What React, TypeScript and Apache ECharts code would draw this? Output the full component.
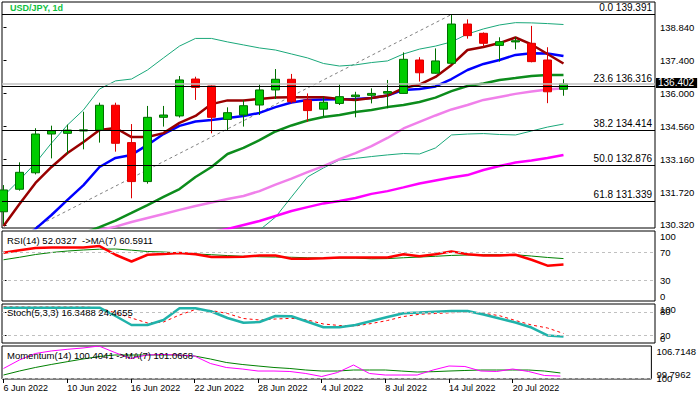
import React, { useEffect, useRef } from 'react';
import * as echarts from 'echarts';

const dates = ['6 Jun 2022','7 Jun 2022','8 Jun 2022','9 Jun 2022','10 Jun 2022','13 Jun 2022','14 Jun 2022','15 Jun 2022','16 Jun 2022','17 Jun 2022','20 Jun 2022','21 Jun 2022','22 Jun 2022','23 Jun 2022','24 Jun 2022','27 Jun 2022','28 Jun 2022','29 Jun 2022','30 Jun 2022','1 Jul 2022','4 Jul 2022','5 Jul 2022','6 Jul 2022','7 Jul 2022','8 Jul 2022','11 Jul 2022','12 Jul 2022','13 Jul 2022','14 Jul 2022','15 Jul 2022','18 Jul 2022','19 Jul 2022','20 Jul 2022','21 Jul 2022','22 Jul 2022','25 Jul 2022'];

const open = [130.89,131.86,132.57,134.24,134.27,134.37,134.41,135.48,133.87,132.19,134.96,135.02,136.61,136.31,134.87,135.06,135.49,136.14,136.60,135.71,135.31,135.56,135.85,135.91,136.00,135.99,137.43,136.86,137.29,138.98,138.58,138.06,138.21,138.15,137.43,136.17];
const close = [131.83,132.59,134.24,134.38,134.41,134.42,135.48,133.84,132.19,134.96,135.06,136.57,136.25,134.96,135.16,135.46,136.14,136.60,135.63,135.25,135.61,135.85,135.92,135.99,136.07,137.46,136.88,137.39,138.98,138.48,138.15,138.22,138.26,137.36,136.06,136.402];
const low = [130.35,131.80,132.50,133.19,133.38,133.58,133.87,133.48,131.47,132.10,134.56,134.95,135.71,134.27,134.41,134.56,135.06,135.75,135.56,134.77,134.99,135.49,134.96,135.56,135.35,135.98,136.50,136.84,137.25,138.35,138.00,137.36,137.89,137.33,135.57,135.89];
const high = [132.04,133.02,134.49,134.60,134.65,135.20,135.59,135.59,134.67,135.45,135.45,136.74,136.71,136.33,135.39,135.71,136.38,137.04,136.83,135.99,135.85,136.38,136.06,136.21,136.57,137.76,137.55,137.93,139.39,139.18,138.62,138.41,138.41,138.90,137.98,136.60];

const ma5 = [130.28,131.22,132.13,132.82,133.42,133.90,134.41,134.50,134.11,134.11,134.28,134.72,135.02,135.53,135.69,135.69,135.75,135.81,135.82,135.82,135.82,135.75,135.71,135.79,135.90,136.22,136.37,136.70,137.22,137.86,137.99,138.16,138.40,138.10,137.69,137.28];
const ma10 = [129.2,129.67,130.15,130.75,131.40,132.04,132.82,133.21,133.34,133.77,134.24,134.59,134.78,134.84,134.93,135.02,135.15,135.40,135.60,135.71,135.73,135.74,135.75,135.79,135.90,136.14,136.18,136.29,136.61,137.00,137.26,137.43,137.65,137.72,137.71,137.60];
const maGreen = [null,null,null,null,129.70,129.97,130.23,130.51,130.84,131.18,131.53,131.87,132.39,132.82,133.38,133.64,133.98,134.35,134.61,134.82,134.97,135.06,135.19,135.28,135.40,135.49,135.62,135.81,136.09,136.31,136.42,136.57,136.65,136.74,136.78,136.78];
const maViolet = [null,null,null,null,null,129.95,130.10,130.25,130.45,130.62,130.79,130.97,131.14,131.29,131.44,131.57,131.78,132.06,132.32,132.60,132.86,133.16,133.42,133.72,134.07,134.48,134.76,135.04,135.30,135.49,135.71,135.84,135.97,136.07,136.16,136.21];
const maMagenta = [null,null,null,null,null,null,null,null,null,null,null,null,129.88,130.02,130.15,130.32,130.49,130.71,130.92,131.09,131.25,131.35,131.48,131.66,131.78,131.94,132.11,132.24,132.37,132.47,132.69,132.86,133.01,133.10,133.21,133.34];
const bandUpper = [131.57,132.26,132.99,133.85,134.63,135.28,136.18,136.53,136.61,137.00,137.52,138.03,138.36,138.36,138.21,138.08,137.95,137.86,137.69,137.52,137.28,137.17,137.22,137.32,137.39,137.69,137.90,138.03,138.21,138.55,138.77,138.94,139.04,139.03,139.00,138.96];
const bandLower = [null,null,null,null,null,null,null,null,null,null,null,null,null,127.95,128.72,129.46,130.10,130.66,131.53,132.39,132.78,133.12,133.19,133.27,133.34,133.40,133.38,133.64,134.20,134.24,134.26,134.22,134.20,134.37,134.54,134.67];

const rsi = [69.0,72.6,75.8,76.6,76.6,76.6,78.4,66.1,56.4,66.1,67.1,68.5,66.8,62.8,62.8,63.2,65.1,65.1,60.3,60.3,61.0,62.2,62.2,62.2,62.2,66.8,63.9,66.8,70.9,66.8,65.1,65.1,66.1,58.9,50.5,52.0327];
const rsiMa = [58.9,62.5,66.4,69.3,71.4,72.9,74.0,74.3,72.6,70.7,70.0,68.7,67.2,66.1,64.9,63.9,63.2,62.8,62.5,61.8,61.3,61.3,61.3,60.3,60.6,61.8,62.8,63.9,65.1,65.7,66.1,66.1,66.1,64.2,62.2,60.5911];
const stochK = [90.5,90.5,90.5,90.5,90.5,90.5,90.5,69.2,46.2,46.2,59.0,89.0,89.0,80.8,64.1,52.1,53.8,69.2,68.5,54.6,40.3,40.3,46.2,56.4,66.7,76.2,78.2,80.3,82.1,82.1,73.1,62.8,52.6,39.7,19.5,16.3488];
const stochD = [93.1,92.3,92.3,92.3,92.3,92.3,90.5,76.9,64.1,51.3,53.8,71.8,85.9,83.3,75.6,62.8,59.0,61.5,63.3,59.0,48.7,44.9,43.6,50.0,57.7,67.9,73.6,75.6,77.7,78.7,76.2,70.0,57.7,46.2,38.5,24.4655];
const mom = [102.00,103.78,105.14,105.67,106.02,106.30,106.71,105.35,104.09,104.83,104.93,104.83,104.62,103.05,102.21,101.89,101.47,101.47,101.37,100.95,100.32,101.16,102.73,100.95,100.63,100.63,100.63,101.68,102.52,102.42,101.47,101.37,101.89,101.37,100.53,100.4041];
const momMa = [100.63,101.47,102.21,102.84,103.42,103.99,104.51,104.83,104.83,104.83,104.83,104.83,104.62,103.99,103.26,102.84,102.52,102.21,102.00,101.68,101.47,101.47,101.68,101.68,101.68,101.47,101.26,101.33,101.47,101.58,101.68,101.68,101.68,101.68,101.47,101.0668];

const priceTicks = [130.32, 131.72, 133.16, 134.56, 136.0, 137.4, 138.84];
const fibPct = [0, 23.6, 38.2, 50, 61.8];
const fibPrice = [139.391, 136.316, 134.414, 132.876, 131.339];
const fibFromIdx = -9;
const fibToIdx = 28;
const fibLow = 126.36;
const lastPrice = 136.402;
const rsiRange = [0, 100];
const rsiLevels = [30, 70];
const stochRange = [0, 100];
const stochLevels = [20, 80];
const momRange = [99.7962, 106.7148];
const momLevels = [100];
const dateTickIdx = [0, 4, 8, 12, 16, 20, 24, 28, 32];

const FONT = '"Liberation Sans", Arial, sans-serif';
const X_MIN = -0.094;
const X_MAX = 40.72;

function pairs(arr: (number | null)[]) {
  return arr.map((v, i) => [i, v]);
}

function buildOption() {
  const gridDefs = [
    { top: 2, height: 226 },
    { top: 231, height: 70 },
    { top: 304, height: 39 },
    { top: 346, height: 33 },
  ];
  const grid = gridDefs.map((g) => ({
    left: 2, width: 653, top: g.top, height: g.height,
    show: true, borderColor: '#000', borderWidth: 1, backgroundColor: '#fff',
  }));
  const xAxis = gridDefs.map((_, i) => ({
    type: 'value', gridIndex: i, min: X_MIN, max: X_MAX,
    show: i === 3,
    axisLine: { show: false },
    splitLine: { show: false },
    axisTick: { show: i === 3, customValues: dateTickIdx, length: 4, lineStyle: { color: '#000' } },
    axisLabel: {
      show: i === 3, customValues: dateTickIdx, align: 'left', margin: 4,
      fontSize: 9, fontFamily: FONT, color: '#000',
      formatter: (v: number) => dates[Math.round(v)] || '',
    },
  }));
  const labelBase = {
    fontSize: 9.5, fontFamily: FONT, color: '#000', margin: 5, lineHeight: 10,
    showMinLabel: true, showMaxLabel: true, hideOverlap: false,
  };
  const axisBase = (gridIndex: number, range: number[]) => ({
    type: 'value', gridIndex, position: 'right', min: range[0], max: range[1],
    axisLine: { show: false }, splitLine: { show: false },
  });
  const levelAxis = (gridIndex: number, range: number[], values: number[], ticks: boolean, fmt: (v: number) => string) => ({
    ...axisBase(gridIndex, range),
    axisTick: { show: ticks, customValues: values, length: 3, lineStyle: { color: '#000' } },
    axisLabel: { ...labelBase, customValues: values, formatter: fmt },
  });
  const edgeAxis = (gridIndex: number, range: number[], value: number, align: string, fmt: (v: number) => string) => ({
    ...axisBase(gridIndex, range),
    axisTick: { show: false },
    axisLabel: { ...labelBase, customValues: [value], verticalAlign: align, formatter: fmt },
  });
  const intFmt = (v: number) => String(Math.round(v));
  const momFmt = (v: number) => v.toFixed(4);
  const yAxis = [
    levelAxis(0, [130.19, 139.93], priceTicks, true, (v) => v.toFixed(3)),
    levelAxis(1, rsiRange, rsiLevels, true, intFmt),
    levelAxis(2, stochRange, stochLevels, true, intFmt),
    levelAxis(3, momRange, momLevels, false, intFmt),
    edgeAxis(1, rsiRange, rsiRange[1], 'top', intFmt),
    edgeAxis(1, rsiRange, rsiRange[0], 'bottom', intFmt),
    edgeAxis(2, stochRange, stochRange[1], 'top', intFmt),
    edgeAxis(2, stochRange, stochRange[0], 'bottom', intFmt),
    edgeAxis(3, momRange, momRange[1], 'top', momFmt),
    edgeAxis(3, momRange, momRange[0], 'bottom', momFmt),
  ];

  const line = (name: string, data: (number | null)[], color: string, width: number, axis: number, extra: any = {}) => ({
    name, type: 'line', xAxisIndex: axis, yAxisIndex: axis, data: pairs(data),
    showSymbol: false, symbol: 'none', connectNulls: false, clip: true, z: 2,
    lineStyle: { color, width, ...(extra.lineStyle || {}) },
  });

  const levelLines = (levels: number[]) => ({
    silent: true, symbol: ['none', 'none'],
    label: { show: false },
    lineStyle: { color: '#c0c0c0', type: [3, 3], width: 1 },
    data: levels.map((l) => ({ yAxis: l })),
  });

  const series: any[] = [
    {
      name: 'Fibo', type: 'line', xAxisIndex: 0, yAxisIndex: 0, z: 1,
      data: [[fibFromIdx, fibLow], [fibToIdx, fibPrice[0]]],
      showSymbol: false, symbol: 'none', clip: true,
      lineStyle: { color: '#808080', width: 1, type: [3, 3] },
      markLine: {
        silent: true, symbol: ['none', 'none'],
        lineStyle: { color: '#000', width: 1, type: 'solid' },
        label: { show: true, position: 'insideEndTop', distance: [3, 2], color: '#000', fontSize: 10, fontFamily: FONT },
        data: fibPrice.map((p, i) => ({
          yAxis: p,
          label: { formatter: fibPct[i].toFixed(1) + ' ' + p.toFixed(3) },
        })),
      },
    },
    {
      name: 'Last', type: 'line', xAxisIndex: 0, yAxisIndex: 0, z: 1, data: [],
      markLine: {
        silent: true, symbol: ['none', 'none'],
        lineStyle: { color: '#c0c0c0', width: 1.5, type: 'solid' },
        label: {
          show: true, position: 'end', distance: 1, formatter: lastPrice.toFixed(3), offset: [0, -1],
          backgroundColor: '#000', color: '#fff', padding: [0, 3, 0, 2], lineHeight: 10,
          fontSize: 10, fontFamily: FONT,
        },
        data: [{ yAxis: lastPrice }],
      },
    },
    line('Band upper', bandUpper, '#1aa87a', 1, 0),
    line('Band lower', bandLower, '#1aa87a', 1, 0),
    line('MA magenta', maMagenta, '#ff00ff', 2.5, 0),
    line('MA violet', maViolet, '#f080ea', 2.5, 0),
    line('MA green', maGreen, '#0c8c1c', 2.5, 0),
    line('MA blue', ma10, '#0000ff', 2.5, 0),
    line('MA red', ma5, '#990000', 2.5, 0),
    {
      name: 'USD/JPY', type: 'candlestick', xAxisIndex: 0, yAxisIndex: 0, z: 3,
      barWidth: 9, clip: true,
      data: dates.map((_, i) => [i, open[i], close[i], low[i], high[i]]),
      itemStyle: { color: '#00cc00', color0: '#ff0000', borderColor: '#006e00', borderColor0: '#dd0000', borderWidth: 1 },
    },
    { ...line('RSI MA', rsiMa, '#008000', 1, 1), markLine: levelLines(rsiLevels) },
    line('RSI', rsi, '#ff0000', 2.5, 1),
    { ...line('Stoch D', stochD, '#ff0000', 1, 2, { lineStyle: { type: [3, 3] } }), markLine: levelLines(stochLevels) },
    line('Stoch K', stochK, '#20b2aa', 2.5, 2),
    { ...line('Momentum MA', momMa, '#008000', 1, 3), markLine: levelLines(momLevels) },
    line('Momentum', mom, '#ff00ff', 1, 3),
  ];

  const text = (x: number, y: number, t: string, fill: string, weight: string = 'normal', size = 9.5) => ({
    type: 'text', x, y, z: 100,
    style: { text: t, fill, font: `${weight} ${size}px ${FONT}`, textVerticalAlign: 'middle', verticalAlign: 'middle' },
  });

  const graphic = [
    text(10, 8, 'USD/JPY, 1d', '#10c040', 'bold', 9),
    text(7, 240, `RSI(14) ${rsi[rsi.length - 1].toFixed(4)}  ->MA(7) ${rsiMa[rsiMa.length - 1].toFixed(4)}`, '#000'),
    text(7, 312, `Stoch(5,3,3) ${stochK[stochK.length - 1].toFixed(4)} ${stochD[stochD.length - 1].toFixed(4)}`, '#000'),
    text(7, 355, `Momentum(14) ${mom[mom.length - 1].toFixed(4)} ->MA(7) ${momMa[momMa.length - 1].toFixed(4)}`, '#000'),
  ];

  return {
    animation: false,
    backgroundColor: '#fff',
    grid, xAxis, yAxis, series, graphic,
  };
}

export default function App() {
  const ref = useRef<HTMLDivElement>(null);
  useEffect(() => {
    const chart = echarts.init(ref.current as HTMLDivElement, null, { renderer: 'svg' });
    chart.setOption(buildOption() as any);
    return () => chart.dispose();
  }, []);
  return (
    <div
      ref={ref}
      style={{ position: 'fixed', left: 0, top: 0, width: 699, height: 398, background: '#fff' }}
    />
  );
}
